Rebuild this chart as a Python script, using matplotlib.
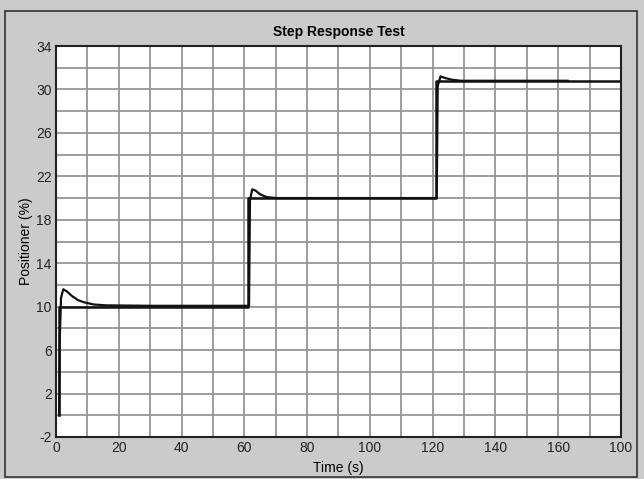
import numpy as np
import matplotlib.pyplot as plt
from matplotlib.patches import Rectangle

# setpoint step (s, %)
sp_t = [0.8, 0.8, 61.3, 61.3, 121.0, 121.0, 180.0]
sp_v = [0.0, 10.0, 10.0, 20.0, 20.0, 30.8, 30.8]

# positioner response
resp_t = [1.0, 1.2, 1.6, 2.3, 3.5, 5.0, 7.0, 9.0, 12.0, 16.0, 30.0, 61.5,
          61.8, 62.5, 63.5, 65.0, 67.0, 70.0, 90.0, 121.3,
          121.6, 122.5, 124.0, 126.0, 129.0, 163.0]
resp_v = [0.0, 7.0, 10.8, 11.6, 11.4, 11.0, 10.6, 10.4, 10.2, 10.12, 10.08, 10.08,
          19.8, 20.8, 20.7, 20.35, 20.1, 20.0, 20.0, 20.0,
          30.3, 31.2, 31.05, 30.9, 30.8, 30.8]

xticks = [0, 20, 40, 60, 80, 100, 120, 140, 160, 180]
xlabels = ["0", "20", "40", "60", "80", "100", "120", "140", "160", "100"]
yticks = [-2, 2, 6, 10, 14, 18, 22, 26, 30, 34]

plt.rcParams['font.family'] = ['Liberation Sans', 'DejaVu Sans']
plt.rcParams['axes.unicode_minus'] = False

fig = plt.figure(figsize=(6.44, 4.79), dpi=100, facecolor='#cbcbcb')
fig.patches.append(Rectangle((0.008, 0.004), 0.981, 0.973, transform=fig.transFigure,
                             fill=False, edgecolor='#333333', linewidth=1.2))
ax = fig.add_axes([56 / 644, 1 - 437 / 479, (621 - 56) / 644, (437 - 46) / 479])
ax.set_facecolor('white')

ax.plot(sp_t, sp_v, color='#111111', linewidth=1.8)
ax.plot(resp_t, resp_v, color='#111111', linewidth=1.6)

ax.set_xlim(0, 180)
ax.set_ylim(-2, 34)
ax.set_xticks(xticks)
ax.set_xticklabels(xlabels)
ax.set_yticks(yticks)
ax.set_xticks(np.arange(0, 181, 10), minor=True)
ax.set_yticks(np.arange(-2, 35, 2), minor=True)
ax.grid(which='both', color='#959595', linewidth=1.3)
ax.set_axisbelow(True)
ax.tick_params(which='both', length=0, labelsize=10, colors='#222222', pad=3)

for s in ax.spines.values():
    s.set_color('#222222')
    s.set_linewidth(1.5)

ax.set_title("Step Response Test", fontsize=10, fontweight='bold', pad=7)
ax.set_xlabel("Time (s)", fontsize=10, labelpad=4)
ax.set_ylabel("Positioner (%)", fontsize=10, labelpad=2)

fig.savefig("out.png", dpi=100, facecolor=fig.get_facecolor())
